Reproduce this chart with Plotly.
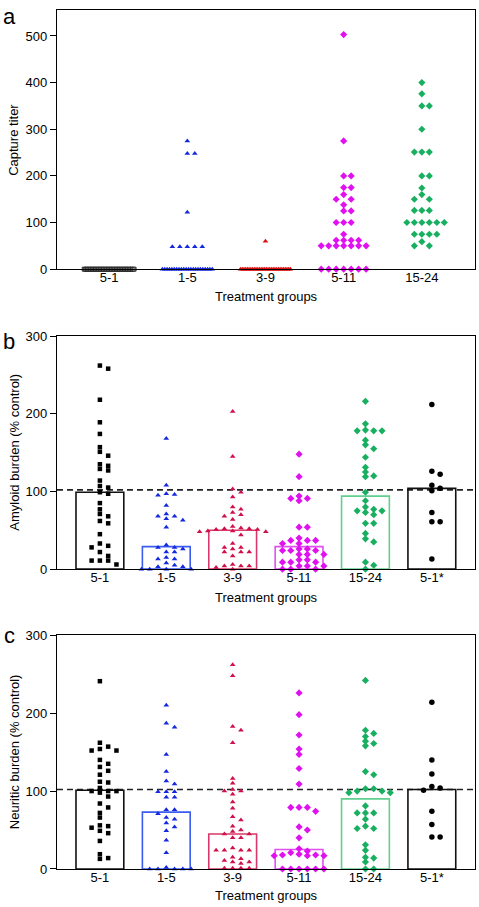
import plotly.graph_objects as go

# ---------------- data ----------------
CATS_A = ["5-1", "1-5", "3-9", "5-11", "15-24"]
CATS_BC = ["5-1", "1-5", "3-9", "5-11", "15-24", "5-1*"]

# Panel a: capture titer
A_51 = [0, 0, 0, 0, 0, 0, 0, 0, 0, 0, 0, 0, 0, 0, 0, 0, 0, 0, 0, 0, 0, 0, 0, 0, 0, 0, 0, 0, 0, 0, 0, 0]
A_15 = [275, 248, 248, 122, 48, 48, 48, 48, 48,
        0, 0, 0, 0, 0, 0, 0, 0, 0, 0, 0, 0, 0, 0, 0, 0, 0, 0, 0, 0, 0, 0]
A_39 = [60, 0, 0, 0, 0, 0, 0, 0, 0, 0, 0, 0, 0, 0, 0, 0, 0, 0, 0, 0, 0, 0, 0, 0, 0, 0, 0, 0, 0, 0, 0]
A_511 = [503, 275, 200, 200, 175, 175, 160, 150, 150, 138, 125, 125, 100, 100, 100, 75,
         62, 62, 62, 62, 50, 50, 50, 50, 50, 50, 50, 0, 0, 0, 0, 0, 0, 0]
A_1524 = [400, 376, 350, 350, 300, 251, 251, 251, 200, 200, 174, 160, 150, 150, 126, 126, 126,
          100, 100, 100, 100, 100, 100, 75, 75, 75, 75, 59, 50, 50]

# Panel b: amyloid burden (% control)
B_51 = [262, 258, 218, 189, 174, 157, 151, 146, 135, 133, 129, 127, 114, 107, 105, 99, 97, 85,
        77, 71, 68, 62, 59, 45, 33, 30, 28, 22, 17, 11, 11, 11, 6]
B_15 = [168, 108, 96, 95, 97, 82, 71, 68, 68, 65, 63, 54, 31, 28, 28, 26, 22, 22, 15, 13, 13,
        8, 5, 3, 3, 0, 0, 0, 0]
B_39 = [203, 145, 103, 99, 93, 80, 77, 73, 70, 68, 64, 55, 53, 52, 52, 51, 51, 49, 49, 48, 48,
        44, 33, 28, 28, 26, 22, 22, 22, 17, 6, 4, 4, 4, 2, 0]
B_511 = [148, 119, 94, 91, 91, 88, 54, 54, 40, 37, 37, 37, 33, 33, 26, 26, 24, 24, 24, 19, 19,
         19, 12, 12, 9, 9, 9, 4, 4, 4, 0, 0, 0]
B_1524 = [216, 187, 179, 178, 178, 178, 166, 160, 155, 144, 131, 125, 120, 119, 99, 88, 80, 77,
          75, 75, 73, 70, 59, 59, 46, 39, 35, 9, 5, 0]
B_51S = [212, 126, 122, 108, 104, 101, 73, 61, 61, 13]
B_MEAN = [99, 29, 50, 29, 94, 104]

# Panel c: neuritic burden (% control)
C_51 = [241, 162, 157, 154, 152, 152, 140, 135, 131, 126, 121, 112, 111, 104, 100, 100, 100, 98,
        93, 84, 79, 72, 66, 56, 55, 53, 49, 46, 36, 19, 14, 13]
C_15 = [210, 187, 182, 147, 125, 113, 109, 99, 99, 99, 92, 92, 76, 76, 71, 66, 64, 59, 54, 49,
        37, 21, 2, 0, 0, 0, 0, 0]
C_39 = [262, 248, 183, 178, 162, 116, 110, 102, 100, 100, 96, 86, 78, 67, 63, 55, 50, 48, 45, 45,
        40, 40, 27, 24, 24, 24, 24, 15, 13, 11, 9, 9, 7, 1, 1, 1, 1]
C_511 = [226, 198, 172, 154, 147, 129, 109, 79, 79, 79, 74, 54, 50, 40, 26, 23, 21, 19, 18, 18,
         17, 17, 17, 0, 0, 0, 0, 0, 0]
C_1524 = [242, 178, 174, 170, 164, 161, 158, 125, 121, 103, 103, 100, 100, 98, 98, 81, 72, 72,
          72, 64, 55, 52, 52, 31, 24, 15, 14, 9, 0, 0]
C_51S = [214, 140, 122, 106, 104, 101, 74, 57, 41, 41]
C_MEAN = [101, 73, 45, 25, 90, 102]

REF_LINE = 102

# ---------------- layout geometry ----------------
W, H = 479, 907
ML, MR, MT, MB = 57, 3, 3, 38
PW = W - ML - MR
PH = H - MT - MB
YBOT = H - MB


def dom(top, bot):
    return [(YBOT - bot) / PH, (YBOT - top) / PH]


DOM_A = dom(3.3, 264.3)
DOM_B = dom(331.7, 566.7)
DOM_C = dom(633.3, 869)
XR_A = [-0.667, 4.68]
XR_BC = [-0.646, 5.65]
YR_A = [0, 555]
YR_BC = [0, 300]


def px_per_unit_x(xr):
    return PW / (xr[1] - xr[0])


def px_per_unit_y(d, yr):
    return (d[1] - d[0]) * PH / (yr[1] - yr[0])


def swarm(values, ypx, step, d=6.0, maxw=50.0):
    n = len(values)
    offs = [None] * n
    placed = []
    counts = {}
    for v in values:
        counts[v] = counts.get(v, 0) + 1
    for v, c in counts.items():
        if c > 1 and (c - 1) * step > maxw:
            idx = [i for i in range(n) if values[i] == v]
            sp = maxw / (c - 1)
            for k, i in enumerate(idx):
                offs[i] = (k - (c - 1) / 2) * sp
                placed.append((offs[i], v * ypx))
    order = sorted(range(n), key=lambda i: -values[i])
    for i in order:
        if offs[i] is not None:
            continue
        y = values[i] * ypx
        k = 0
        while True:
            m = (k + 1) // 2 * (1 if k % 2 == 1 else -1)
            xo = m * step
            if all((xo - px) ** 2 + (y - py) ** 2 >= d * d for px, py in placed):
                break
            k += 1
        offs[i] = xo
        placed.append((xo, y))
    return offs


FONT = "Liberation Sans, Arial, Helvetica, sans-serif"

fig = go.Figure()

STY_A = [
    dict(symbol="square", size=4, color="#888888", line=dict(color="#111111", width=0.8)),
    dict(symbol="triangle-up", size=5, color="#1428E0", line=dict(width=0)),
    dict(symbol="triangle-up", size=5, color="#E01010", line=dict(width=0)),
    dict(symbol="diamond", size=5.5, color="#E010F0", line=dict(width=0)),
    dict(symbol="diamond", size=5.5, color="#18B060", line=dict(width=0)),
]
STY_BC = [
    dict(symbol="square", size=4.5, color="#000000", line=dict(width=0)),
    dict(symbol="triangle-up", size=5, color="#1428E0", line=dict(width=0)),
    dict(symbol="triangle-up", size=5, color="#D0104A", line=dict(width=0)),
    dict(symbol="diamond", size=5.5, color="#E010F0", line=dict(width=0)),
    dict(symbol="diamond", size=5.5, color="#18B060", line=dict(width=0)),
    dict(symbol="circle", size=5.5, color="#000000", line=dict(width=0)),
]
BAR_COL = ["#111111", "#3A5CF0", "#D8386A", "#E050F0", "#60D090", "#111111"]

# ---- panel a ----
pxu_a = px_per_unit_x(XR_A)
pyu_a = px_per_unit_y(DOM_A, YR_A)
for gi, vals in enumerate([A_51, A_15, A_39, A_511, A_1524]):
    offs = swarm(vals, pyu_a, 7.5, d=5.0)
    fig.add_trace(go.Scatter(
        x=[gi + o / pxu_a for o in offs], y=vals, mode="markers",
        marker=STY_A[gi], xaxis="x", yaxis="y", cliponaxis=False, showlegend=False))

# ---- panels b, c ----
for (xa, ya, d_, groups, means) in [
        ("x2", "y2", DOM_B, [B_51, B_15, B_39, B_511, B_1524, B_51S], B_MEAN),
        ("x3", "y3", DOM_C, [C_51, C_15, C_39, C_511, C_1524, C_51S], C_MEAN)]:
    pxu = px_per_unit_x(XR_BC)
    pyu = px_per_unit_y(d_, YR_BC)
    for gi, m in enumerate(means):
        fig.add_trace(go.Bar(
            x=[gi], y=[m], width=0.72, xaxis=xa, yaxis=ya, showlegend=False,
            marker=dict(color="rgba(255,255,255,0)", line=dict(color=BAR_COL[gi], width=1.6))))
    for gi, vals in enumerate(groups):
        offs = swarm(vals, pyu, 8.3, d=4.5)
        fig.add_trace(go.Scatter(
            x=[gi + o / pxu for o in offs], y=vals, mode="markers",
            marker=STY_BC[gi], xaxis=xa, yaxis=ya, cliponaxis=False, showlegend=False))
    fig.add_shape(type="line", xref="paper", x0=0, x1=1, yref=ya, y0=REF_LINE, y1=REF_LINE,
                  line=dict(color="#222222", width=1.6, dash="6px,4px"), layer="below")

axis_common = dict(showline=True, linecolor="#000000", linewidth=1.3, mirror=True,
                   showgrid=False, zeroline=False,
                   tickfont=dict(family=FONT, size=13, color="#000000"))
xcommon = dict(ticks="", ticklabelstandoff=-4, **axis_common)
ycommon = dict(ticks="outside", ticklen=6, tickwidth=1.2, tickcolor="#000000", **axis_common)

fig.update_layout(
    width=W, height=H, margin=dict(l=ML, r=MR, t=MT, b=MB),
    paper_bgcolor="white", plot_bgcolor="white", barmode="overlay",
    font=dict(family=FONT, color="#000000"),
    xaxis=dict(domain=[0, 1], anchor="y", range=XR_A, tickvals=list(range(len(CATS_A))),
               ticktext=CATS_A, **xcommon),
    yaxis=dict(domain=DOM_A, anchor="x", range=YR_A, tickvals=[0, 100, 200, 300, 400, 500],
               **ycommon),
    xaxis2=dict(domain=[0, 1], anchor="y2", range=XR_BC, tickvals=list(range(len(CATS_BC))),
                ticktext=CATS_BC, **xcommon),
    yaxis2=dict(domain=DOM_B, anchor="x2", range=YR_BC, tickvals=[0, 100, 200, 300], **ycommon),
    xaxis3=dict(domain=[0, 1], anchor="y3", range=XR_BC, tickvals=list(range(len(CATS_BC))),
                ticktext=CATS_BC, **xcommon),
    yaxis3=dict(domain=DOM_C, anchor="x3", range=YR_BC, tickvals=[0, 100, 200, 300], **ycommon),
)


def px2paper(px, py):
    return (px - ML) / PW, (YBOT - py) / PH


anns = []
for label, (top, bot) in zip(["Capture titer", "Amyloid burden (% control)", "Neuritic burden (% control)"],
                             [(3.3, 264.3), (331.7, 566.7), (633.3, 869)]):
    x, y = px2paper(14, (top + bot) / 2)
    anns.append(dict(text=label, x=x, y=y, xref="paper", yref="paper", showarrow=False,
                     textangle=-90, xanchor="center", yanchor="middle",
                     font=dict(family=FONT, size=13, color="#000000")))
for py in [292, 595, 896]:
    x, y = px2paper(266.5, py)
    anns.append(dict(text="Treatment groups", x=x, y=y, xref="paper", yref="paper",
                     showarrow=False, xanchor="center", yanchor="middle",
                     font=dict(family=FONT, size=13, color="#000000")))
for letter, py in [("a", 10), ("b", 337), ("c", 634)]:
    x, y = px2paper(9, py)
    anns.append(dict(text=letter, x=x, y=y, xref="paper", yref="paper", showarrow=False,
                     xanchor="center", yanchor="middle",
                     font=dict(family=FONT, size=22, color="#000000")))
fig.update_layout(annotations=anns)

fig.write_html("out.html", config={"displayModeBar": False},
               post_script="document.body.style.margin='0';document.body.style.overflow='hidden';")
